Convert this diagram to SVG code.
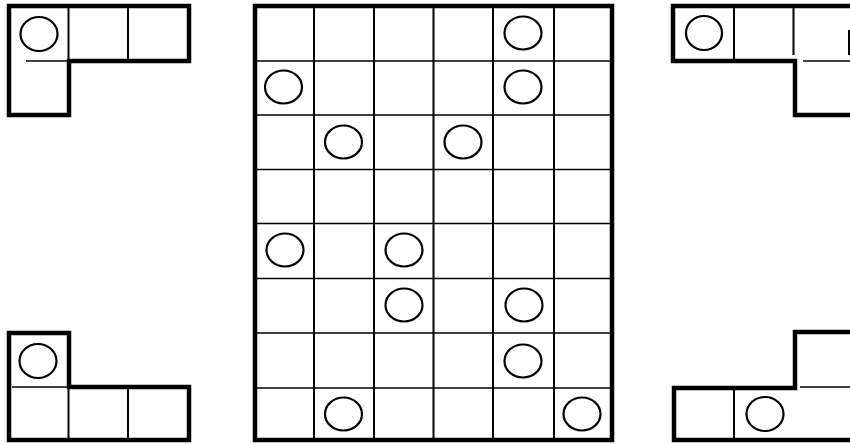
<svg xmlns="http://www.w3.org/2000/svg" width="850" height="445" viewBox="0 0 850 445">
<style>
.bg{fill:#fff}
.out{fill:none;stroke:#000;stroke-width:4.5;stroke-linejoin:miter;stroke-linecap:square}
.in{fill:none;stroke:#000;stroke-width:2}
.inh{fill:none;stroke:#000;stroke-width:1.6}
.c{fill:none;stroke:#000;stroke-width:2.2}
</style>
<rect class="bg" x="0" y="0" width="850" height="445"/>
<g id="piece-top-left">
<line class="in" x1="68.5" y1="6" x2="68.5" y2="61"/>
<line class="in" x1="128" y1="6" x2="128" y2="61"/>
<line class="inh" x1="26" y1="61" x2="68" y2="61"/>
<ellipse class="c" cx="39" cy="34" rx="18.5" ry="17"/>
<path class="out" d="M9,6 H189 V61 H69 V115 H9 Z"/>
</g>
<g id="piece-bottom-left">
<line class="inh" x1="12" y1="387" x2="68" y2="387"/>
<line class="in" x1="68.5" y1="387" x2="68.5" y2="440"/>
<line class="in" x1="128" y1="387" x2="128" y2="440"/>
<ellipse class="c" cx="38" cy="361" rx="18.5" ry="17"/>
<path class="out" d="M9,333 H69 V387 H189 V440 H9 Z"/>
</g>
<g id="board">
<g id="grid-lines">
<line class="in" x1="314" y1="7" x2="314" y2="439"/>
<line class="in" x1="374" y1="7" x2="374" y2="439"/>
<line class="in" x1="433.5" y1="7" x2="433.5" y2="439"/>
<line class="in" x1="493" y1="7" x2="493" y2="439"/>
<line class="in" x1="554" y1="7" x2="554" y2="439"/>
<line class="inh" x1="257" y1="61" x2="610" y2="61"/>
<line class="inh" x1="257" y1="115" x2="610" y2="115"/>
<line class="inh" x1="257" y1="169.5" x2="610" y2="169.5"/>
<line class="inh" x1="257" y1="223.5" x2="610" y2="223.5"/>
<line class="inh" x1="257" y1="278.5" x2="610" y2="278.5"/>
<line class="inh" x1="257" y1="333" x2="610" y2="333"/>
<line class="inh" x1="257" y1="388" x2="610" y2="388"/>
</g>
<g id="marks">
<ellipse class="c" cx="523" cy="33" rx="18.5" ry="16.5"/>
<ellipse class="c" cx="283.5" cy="87" rx="18.5" ry="16.5"/>
<ellipse class="c" cx="523" cy="87" rx="18.5" ry="16.5"/>
<ellipse class="c" cx="343.5" cy="142" rx="18.5" ry="16.5"/>
<ellipse class="c" cx="463" cy="142" rx="18.5" ry="16.5"/>
<ellipse class="c" cx="285" cy="250" rx="18.5" ry="16.5"/>
<ellipse class="c" cx="404" cy="250" rx="18.5" ry="16.5"/>
<ellipse class="c" cx="404" cy="305" rx="18.5" ry="16.5"/>
<ellipse class="c" cx="524" cy="305" rx="18.5" ry="16.5"/>
<ellipse class="c" cx="523" cy="361" rx="18.5" ry="16.5"/>
<ellipse class="c" cx="343.5" cy="414" rx="18.5" ry="16.5"/>
<ellipse class="c" cx="582" cy="414" rx="18.5" ry="16.5"/>
</g>
<rect class="out" x="255" y="6" width="357" height="434"/>
</g>
<g id="piece-top-right">
<line class="in" x1="734" y1="6" x2="734" y2="61"/>
<line class="in" x1="793.5" y1="6" x2="793.5" y2="55"/>
<line class="inh" x1="803" y1="61" x2="850" y2="61"/>
<line class="in" x1="849" y1="30" x2="849" y2="55"/>
<ellipse class="c" cx="704" cy="33" rx="18" ry="17"/>
<path class="out" d="M856,6 H673 V61 H795 V115 H856"/>
</g>
<g id="piece-bottom-right">
<line class="in" x1="734" y1="388" x2="734" y2="440"/>
<line class="inh" x1="800" y1="387" x2="850" y2="387"/>
<ellipse class="c" cx="765" cy="414" rx="18.5" ry="17"/>
<path class="out" d="M856,332 H795 V388 H674 V440 H856"/>
</g>
</svg>
